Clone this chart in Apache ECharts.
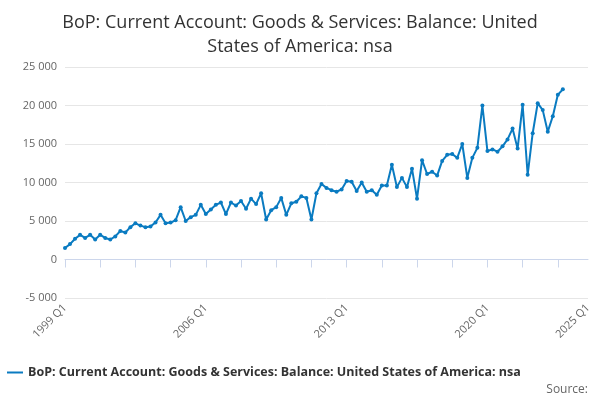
<!DOCTYPE html>
<html>
<head>
<meta charset="utf-8">
<script src="https://cdn.jsdelivr.net/npm/echarts@6/dist/echarts.min.js"></script>
<style>
    html, body { margin: 0; padding: 0; background: #fff; }
    #chart { width: 600px; height: 400px; }
</style>
</head>
<body>
<div id="chart"></div>
<script>
const seriesName = "BoP: Current Account: Goods & Services: Balance: United States of America: nsa";

const firstYear = 1999;
const lastYear = 2025;

const values = [
    1500, 2000, 2700, 3200,
    2800, 3200, 2600, 3200,
    2800, 2600, 3000, 3700,
    3500, 4200, 4700, 4400,
    4200, 4300, 4800, 5800,
    4700, 4800, 5100, 6800,
    5000, 5500, 5800, 7100,
    5900, 6500, 7100, 7400,
    5900, 7400, 7000, 7600,
    6600, 7900, 7200, 8600,
    5200, 6400, 6800, 8000,
    5800, 7300, 7500, 8200,
    8000, 5200, 8600, 9800,
    9300, 9000, 8800, 9100,
    10200, 10100, 8900, 10000,
    8800, 9000, 8400, 9600,
    9600, 12300, 9400, 10600,
    9400, 11800, 7900, 12900,
    11100, 11400, 10900, 12800,
    13600, 13700, 13200, 15000,
    10600, 13200, 14500, 20000,
    14100, 14300, 14000, 14700,
    15600, 17000, 14400, 20100,
    11000, 16400, 20300, 19400,
    16600, 18600, 21400, 22100
];

// quarters 1999 Q1 .. 2025 Q1
const categories = [];
for ( let y = firstYear; y <= lastYear; y++ ) {
    for ( let q = 1; q <= 4; q++ ) {
        if ( y === lastYear && q > 1 )
            break;
        categories.push(y + " Q" + q);
    }
}

const font = "'Open Sans', 'DejaVu Sans', sans-serif";
const lastIdx = categories.length - 1;

const option = {
    animation: false,
    title: {
        text: "BoP: Current Account: Goods & Services: Balance: United\nStates of America: nsa",
        left: "center",
        top: 6,
        textStyle: {
            fontFamily: font,
            fontWeight: "normal",
            fontSize: 18,
            lineHeight: 24,
            color: "#333"
        }
    },
    grid: {
        left: 65,
        right: 12,
        top: 67,
        bottom: 102
    },
    xAxis: {
        type: "category",
        data: categories,
        boundaryGap: false,
        axisLine: { lineStyle: { color: "#ccd6eb" } },
        axisTick: { interval: 6, length: 8, lineStyle: { color: "#ccd6eb" } },
        axisLabel: {
            interval: (i) => i % 28 === 0 || i === lastIdx,
            rotate: 45,
            fontFamily: font,
            fontSize: 11,
            color: "#666"
        }
    },
    yAxis: {
        type: "value",
        min: -5000,
        max: 25000,
        interval: 5000,
        axisLabel: {
            fontFamily: font,
            fontSize: 11,
            color: "#666",
            formatter: (v) => String(v).replace(/\B(?=(\d{3})+(?!\d))/g, " ")
        },
        splitLine: { lineStyle: { color: "#e6e6e6" } }
    },
    legend: {
        bottom: 16,
        left: 2,
        itemWidth: 16,
        itemGap: 4,
        icon: "path://M0,4 L16,4 L16,6 L0,6 Z",
        textStyle: {
            fontFamily: font,
            fontSize: 12.5,
            fontWeight: "bold",
            color: "#333"
        }
    },
    graphic: [
        {
            type: "text",
            right: 12,
            bottom: 4,
            style: {
                text: "Source:",
                font: "12px " + font,
                fill: "#666"
            }
        }
    ],
    series: [
        {
            name: seriesName,
            type: "line",
            data: values,
            color: "#0a7bc1",
            symbol: "circle",
            symbolSize: 4,
            showSymbol: true,
            showAllSymbol: true,
            lineStyle: { width: 2 }
        }
    ]
};

const chart = echarts.init(document.getElementById("chart"));
chart.setOption(option);
</script>
</body>
</html>
